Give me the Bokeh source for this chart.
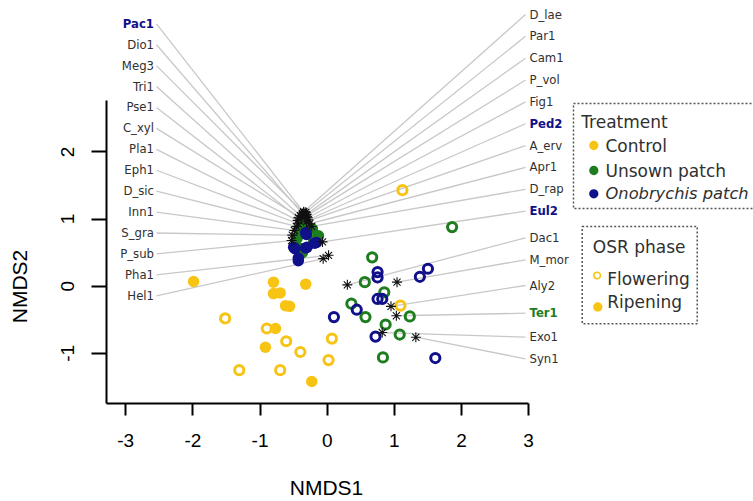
from bokeh.plotting import figure
from bokeh.models import Range1d, LinearAxis, FixedTicker, ColumnDataSource
from bokeh.core.properties import value
from bokeh.embed import file_html
from bokeh.resources import INLINE

# ---------------- data ----------------
# species scores (NMDS1, NMDS2), labelled on the left side
left_species = ["Pac1", "Dio1", "Meg3", "Tri1", "Pse1", "C_xyl", "Pla1", "Eph1",
                "D_sic", "Inn1", "S_gra", "P_sub", "Pha1", "Hel1"]
left_sx = [-0.35, -0.37, -0.34, -0.40, -0.43, -0.38, -0.44, -0.43,
           -0.46, -0.49, -0.52, -0.53, 0.02, -0.06]
left_sy = [1.10, 1.08, 1.08, 1.05, 1.02, 1.01, 0.98, 0.93,
           0.89, 0.83, 0.76, 0.68, 0.46, 0.41]

# species labelled on the right side
right_species = ["D_lae", "Par1", "Cam1", "P_vol", "Fig1", "Ped2", "A_erv", "Apr1",
                 "D_rap", "Eul2", "Dac1", "M_mor", "Aly2", "Ter1", "Exo1", "Syn1"]
right_sx = [-0.35, -0.32, -0.31, -0.32, -0.29, -0.28, -0.31, -0.26,
            -0.23, -0.07, 0.30, 1.04, 0.95, 1.03, 0.82, 1.32]
right_sy = [1.11, 1.10, 1.07, 1.04, 1.02, 0.99, 0.96, 0.93,
            0.89, 0.66, 0.02, 0.06, -0.30, -0.44, -0.69, -0.76]

highlight_blue = ["Pac1", "Ped2", "Eul2"]
highlight_green = ["Ter1"]

# sample scores
control_rip_x = [-1.99, -0.80, -0.32, -0.80, -0.70, -0.62, -0.56, -0.77, -0.92, -0.23]
control_rip_y = [0.07, 0.06, 0.03, -0.11, -0.10, -0.29, -0.30, -0.63, -0.91, -1.42]
control_flo_x = [1.12, 1.09, -1.52, -0.90, -0.61, -0.40, 0.07, 0.02, -1.31, -0.70]
control_flo_y = [1.43, -0.29, -0.48, -0.63, -0.82, -0.98, -0.78, -1.10, -1.25, -1.25]
unsown_rip_x = [-0.22, -0.42, -0.45, -0.40, -0.35, -0.13, -0.41, -0.37, -0.20, -0.29]
unsown_rip_y = [0.85, 0.85, 0.71, 0.56, 0.89, 0.75, 0.77, 0.50, 0.68, 0.84]
unsown_flo_x = [1.86, 0.67, 0.56, 0.85, 0.36, 0.57, 1.23, 0.87, 1.08, 0.83]
unsown_flo_y = [0.88, 0.43, 0.06, -0.09, -0.26, -0.46, -0.45, -0.57, -0.72, -1.06]
onob_rip_x = [-0.32, -0.16, -0.50, -0.30, -0.43, -0.31, -0.19, -0.48, -0.32, -0.43]
onob_rip_y = [0.80, 0.65, 0.58, 0.58, 0.38, 0.77, 0.64, 0.56, 0.57, 0.42]
onob_flo_x = [0.75, 0.75, 1.50, 1.38, 0.75, 0.82, 0.44, 0.10, 0.72, 1.61]
onob_flo_y = [0.21, 0.13, 0.26, 0.14, -0.19, -0.19, -0.35, -0.46, -0.75, -1.07]

x_ticks = [-3, -2, -1, 0, 1, 2, 3]
y_ticks = [-1, 0, 1, 2]

treatments = ["Control", "Unsown patch", "Onobrychis patch"]
phases = ["Flowering", "Ripening"]

# ---------------- layout / style ----------------
W, H = 753, 501
X0, Y0, S = 326.7, 285.7, 67.15


def px2x(px):
    return (px - X0) / S


def px2y(py):
    return (Y0 - py) / S


YELLOW = "#F8C414"
GREEN = "#1E7D1E"
BLUE = "#10108A"
LINE_GREY = "#C8C8C8"
TXT = "#303030"

left_label_py = [23.3 + i * 20.92 for i in range(len(left_species))]
right_label_py = [14 + i * 21.85 for i in range(10)] + [237.3, 259.3, 285.0, 312.7, 336.7, 358.3]

p = figure(width=W, height=H,
           x_range=Range1d(px2x(0), px2x(W)), y_range=Range1d(px2y(H), px2y(0)),
           x_axis_type=None, y_axis_type=None,
           toolbar_location=None, output_backend="svg", min_border=0)
p.outline_line_color = None
p.background_fill_color = "white"
p.border_fill_color = "white"

# label lines
lx_left = px2x(156)
lx_right = px2x(525)
x0s = [lx_left] * len(left_species) + [lx_right] * len(right_species)
y0s = [px2y(v) for v in left_label_py] + [px2y(v) for v in right_label_py]
x1s = left_sx + right_sx
y1s = left_sy + right_sy
p.segment(x0=x0s, y0=y0s, x1=x1s, y1=y1s, line_color=LINE_GREY, line_width=1.3)

# samples
rip_size = 11.5
flo_size = 9.2
flo_lw = 3.0
p.scatter(control_flo_x, control_flo_y, size=flo_size, fill_color=None, line_color=YELLOW, line_width=flo_lw)
p.scatter(control_rip_x, control_rip_y, size=rip_size, fill_color=YELLOW, line_color=None)
p.scatter(unsown_flo_x, unsown_flo_y, size=flo_size, fill_color=None, line_color=GREEN, line_width=flo_lw)
p.scatter(onob_flo_x, onob_flo_y, size=flo_size, fill_color=None, line_color=BLUE, line_width=flo_lw)
p.scatter(unsown_rip_x, unsown_rip_y, size=rip_size, fill_color=GREEN, line_color=None)
p.scatter(onob_rip_x, onob_rip_y, size=rip_size, fill_color=BLUE, line_color=None)

# species points
p.scatter(left_sx + right_sx, left_sy + right_sy, marker="asterisk", size=10,
          line_color="#111111", line_width=1.1)

# species labels
def label_rows(names, pys, xpos):
    normal = dict(x=[], y=[], t=[])
    hb = dict(x=[], y=[], t=[])
    hg = dict(x=[], y=[], t=[])
    for n, py in zip(names, pys):
        d = hb if n in highlight_blue else hg if n in highlight_green else normal
        d["x"].append(xpos)
        d["y"].append(px2y(py))
        d["t"].append(n)
    return normal, hb, hg


for names, pys, xpos, align in ((left_species, left_label_py, px2x(153.5), "right"),
                                (right_species, right_label_py, px2x(529), "left")):
    normal, hb, hg = label_rows(names, pys, xpos)
    for d, col, style in ((normal, TXT, "normal"), (hb, BLUE, "bold"), (hg, GREEN, "bold")):
        if d["t"]:
            p.text(x="x", y="y", text="t", source=ColumnDataSource(d),
                   text_font=value("DejaVu Sans"), text_font_size="11.7px",
                   text_font_style=style, text_color=col,
                   text_align=align, text_baseline="middle")

# axes
xaxis = LinearAxis(fixed_location=px2y(403), bounds=(px2x(105.5), 3),
                   ticker=FixedTicker(ticks=x_ticks))
yaxis = LinearAxis(fixed_location=px2x(105.5), bounds=(px2y(403), px2y(100)),
                   ticker=FixedTicker(ticks=y_ticks), major_label_orientation="vertical")
for ax, tout, stand, ticks in ((xaxis, 12, 18, x_ticks), (yaxis, 15, 17, y_ticks)):
    ax.axis_line_width = 2
    ax.axis_line_color = "black"
    ax.major_tick_line_width = 2
    ax.major_tick_out = tout
    ax.major_tick_in = 0
    ax.minor_tick_out = 0
    ax.minor_tick_in = 0
    ax.major_label_text_font = "Liberation Sans"
    ax.major_label_text_font_size = "19px"
    ax.major_label_text_color = "black"
    ax.major_label_standoff = stand
    ax.major_label_overrides = {t: str(t) for t in ticks}
p.add_layout(xaxis, "below")
p.add_layout(yaxis, "left")

xlab = LinearAxis(fixed_location=px2y(403), bounds=(px2x(326) - 3.3, px2x(326) + 3.3),
                  ticker=FixedTicker(ticks=[]), axis_label="NMDS1")
ylab = LinearAxis(fixed_location=px2x(105.5), bounds=(px2y(286) - 1.75, px2y(286) + 1.75),
                  ticker=FixedTicker(ticks=[]), axis_label="NMDS2")
for ax, stand in ((xlab, 72), (ylab, 76)):
    ax.axis_line_color = None
    ax.major_tick_out = 0
    ax.major_tick_in = 0
    ax.minor_tick_out = 0
    ax.minor_tick_in = 0
    ax.major_label_standoff = 0
    ax.axis_label_standoff = stand
    ax.axis_label_text_font = "Liberation Sans"
    ax.axis_label_text_font_size = "21px"
    ax.axis_label_text_font_style = "normal"
    ax.axis_label_text_color = "black"
p.add_layout(xlab, "below")
p.add_layout(ylab, "left")

# legends (manual)
p.quad(left=[px2x(573), px2x(581.7)], right=[px2x(760), px2x(696.7)],
       top=[px2y(103), px2y(226)], bottom=[px2y(208), px2y(323.3)],
       fill_color=None, line_color="#555555", line_width=1.5, line_dash="2 2")
p.text(x=[px2x(580.7), px2x(592.3)], y=[px2y(121.7), px2y(246.7)],
       text=["Treatment", "OSR phase"], text_font=value("DejaVu Sans"),
       text_font_size="17px", text_color=TXT, text_baseline="middle", text_align="left")
leg_y = [145, 170, 193.3]
p.scatter([px2x(593.3)] * 3, [px2y(v) for v in leg_y], size=9.3,
          fill_color=[YELLOW, GREEN, BLUE], line_color=None)
p.text(x=[px2x(605)] * 2, y=[px2y(v) for v in leg_y[:2]], text=treatments[:2],
       text_font=value("DejaVu Sans"), text_font_size="17px", text_color=TXT,
       text_baseline="middle", text_align="left")
p.text(x=[px2x(605)], y=[px2y(leg_y[2])], text=treatments[2:],
       text_font=value("DejaVu Sans"), text_font_size="16.3px", text_font_style="italic",
       text_color=TXT, text_baseline="middle", text_align="left")
p.scatter([px2x(596.7)], [px2y(275)], size=6.5, fill_color=None, line_color=YELLOW, line_width=1.6)
p.scatter([px2x(597.3)], [px2y(306.5)], size=9.3, fill_color=YELLOW, line_color=None)
p.text(x=[px2x(606.7)] * 2, y=[px2y(278.5), px2y(301.7)], text=phases,
       text_font=value("DejaVu Sans"), text_font_size="17px", text_color=TXT,
       text_baseline="middle", text_align="left")

open("out.html", "w").write(file_html(p, INLINE))
